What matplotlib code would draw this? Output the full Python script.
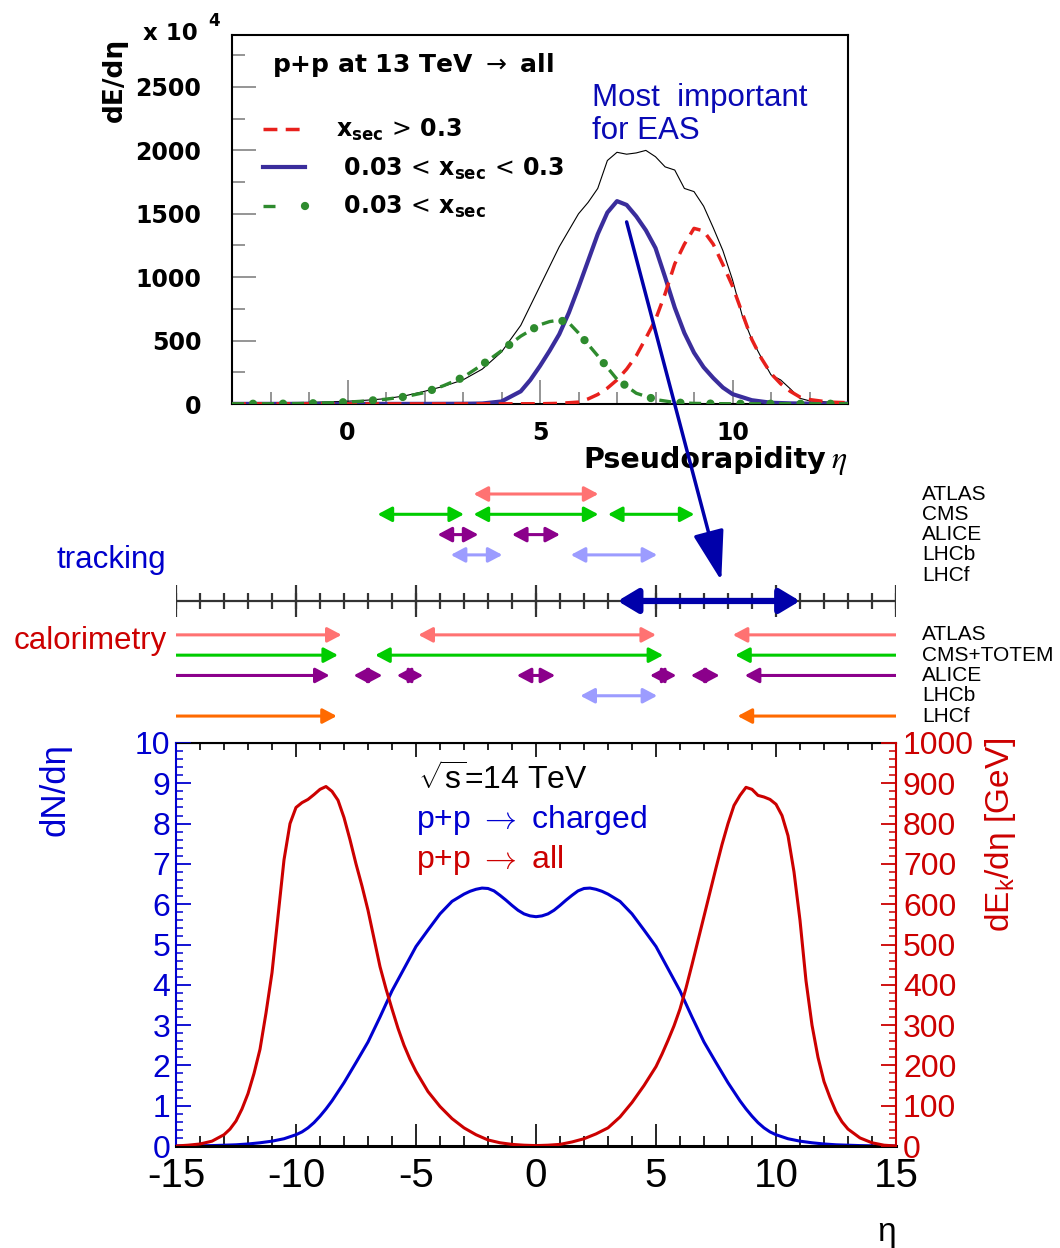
import numpy as np
import matplotlib
matplotlib.use('Agg')
import matplotlib.pyplot as plt
from matplotlib.patches import FancyArrowPatch, ConnectionPatch, ArrowStyle
from matplotlib.legend_handler import HandlerTuple
from matplotlib.font_manager import FontProperties
from matplotlib.ticker import MultipleLocator

plt.rcParams['font.family'] = ['Liberation Sans', 'DejaVu Sans']
plt.rcParams['mathtext.fontset'] = 'custom'
plt.rcParams['mathtext.rm'] = 'Liberation Sans'
plt.rcParams['mathtext.it'] = 'Liberation Sans:italic'
plt.rcParams['mathtext.bf'] = 'Liberation Sans:bold'
plt.rcParams['axes.unicode_minus'] = False

# ---------------- top panel: p+p at 13 TeV, dE/deta (x 10^4) ----------------
eta_total = [-3.0, -2.5, -2.0, -1.5, -1.0, -0.5, 0.0, 0.5, 1.0, 1.5, 2.0, 2.5, 3.0, 3.5,
             4.0, 4.5, 5.0, 5.5, 6.0, 6.25, 6.5, 6.75, 7.0, 7.25, 7.5, 7.75, 8.0, 8.25,
             8.5, 8.75, 9.0, 9.25, 9.5, 9.75, 10.0, 10.25, 10.5, 10.75, 11.0, 11.25,
             11.5, 11.75, 12.0, 12.5, 13.0]
dE_total = [5, 6, 8, 10, 13, 17, 22, 30, 42, 65, 100, 140, 190, 275,
            410, 620, 930, 1240, 1500, 1590, 1700, 1920, 1985, 1970, 1980, 2000, 1950, 1870,
            1845, 1700, 1675, 1560, 1390, 1210, 980, 700, 510, 365, 230, 190,
            120, 45, 25, 15, 10]

# 0.03 < x_sec < 0.3
eta_mid = [-3.0, -2.0, -1.0, 0.0, 1.0, 2.0, 3.0, 3.5, 4.0, 4.5, 4.75, 5.0, 5.25, 5.5,
           5.75, 6.0, 6.25, 6.5, 6.75, 7.0, 7.25, 7.5, 7.75, 8.0, 8.25, 8.5, 8.75,
           9.0, 9.25, 9.5, 9.75, 10.0, 10.5, 11.0, 11.5, 12.0, 13.0]
dE_mid = [1, 1, 1, 1, 1, 1, 2, 4, 20, 100, 190, 300, 420, 550,
          720, 920, 1130, 1340, 1510, 1600, 1570, 1480, 1370, 1230, 1000, 760, 560,
          405, 290, 205, 130, 78, 30, 10, 5, 3, 3]

# x_sec > 0.3
eta_hard = [-3.0, -1.0, 1.0, 3.0, 5.0, 5.5, 6.0, 6.25, 6.5, 6.75, 7.0, 7.25, 7.5, 7.75,
            8.0, 8.25, 8.5, 8.75, 9.0, 9.25, 9.5, 9.75, 10.0, 10.25, 10.5, 10.75, 11.0,
            11.25, 11.5, 11.75, 12.0, 12.5, 13.0]
dE_hard = [1, 1, 1, 1, 2, 5, 15, 40, 75, 125, 190, 275, 380, 520,
           665, 870, 1105, 1260, 1385, 1365, 1260, 1100, 930, 720, 510, 360, 240,
           160, 100, 55, 35, 15, 10]

# 0.03 < x_sec
eta_soft = [-3.0, -2.5, -2.0, -1.5, -1.0, -0.5, 0.0, 0.5, 1.0, 1.5, 2.0, 2.5, 3.0, 3.5,
            4.0, 4.5, 5.0, 5.25, 5.5, 5.75, 6.0, 6.5, 7.0, 7.5, 8.0, 8.5, 9.0, 9.5,
            10.0, 11.0, 12.0, 13.0]
dE_soft = [2, 2, 2, 3, 5, 9, 15, 24, 38, 58, 90, 145, 210, 310,
           420, 535, 625, 650, 662, 640, 560, 380, 195, 85, 35, 12, 5, 3,
           2, 2, 2, 2]

# ---------------- middle: detector acceptance in eta ----------------
trk_names = ['ATLAS', 'CMS', 'ALICE', 'LHCb', 'LHCf']
cal_names = ['ATLAS', 'CMS+TOTEM', 'ALICE', 'LHCb', 'LHCf']
det_colors = ['#ff7272', '#00cc00', '#8b008b', '#9c9cff', '#ff6a00']

trk_atlas = [(-2.6, 2.6)]
trk_cms = [(-6.6, -3.0), (-2.6, 2.6), (3.0, 6.6)]
trk_alice = [(-4.1, -2.4), (-1.0, 1.0)]
trk_lhcb = [(-3.55, -1.4), (1.45, 5.05)]
trk_lhcf = []

cal_atlas = [(-15, -8.1), (-4.9, 5.0), (15, 8.2)]
cal_cms = [(-15, -8.25), (-6.7, 5.3), (15, 8.3)]
cal_alice = [(-15, -8.6), (-7.6, -6.4), (-5.8, -4.7), (-0.8, 0.8), (4.75, 5.85),
             (6.45, 7.65), (15, 8.7)]
cal_lhcb = [(1.85, 5.05)]
cal_lhcf = [(-15, -8.3), (15, 8.4)]

eas_range = (3.4, 11.0)

# ---------------- bottom: sqrt(s)=14 TeV ----------------
eta_ch = [-15.0, -14.5, -14.0, -13.5, -13.0, -12.5, -12.0, -11.5, -11.0, -10.5, -10.0,
          -9.75, -9.5, -9.25, -9.0, -8.75, -8.5, -8.0, -7.5, -7.0, -6.5, -6.0, -5.5,
          -5.0, -4.5, -4.0, -3.5, -3.0, -2.75, -2.5, -2.25, -2.0, -1.75, -1.5, -1.25,
          -1.0, -0.75, -0.5, -0.25, 0.0, 0.25, 0.5, 0.75, 1.0, 1.25, 1.5, 1.75, 2.0,
          2.25, 2.5, 2.75, 3.0, 3.5, 4.0, 4.5, 5.0, 5.5, 6.0, 6.5, 7.0, 7.5, 8.0,
          8.5, 8.75, 9.0, 9.25, 9.5, 9.75, 10.0, 10.5, 11.0, 11.5, 12.0, 12.5, 13.0,
          13.5, 14.0, 14.5, 15.0]
dN_ch = [0.0, 0.002, 0.005, 0.01, 0.02, 0.03, 0.05, 0.08, 0.12, 0.18, 0.28,
         0.35, 0.45, 0.58, 0.74, 0.92, 1.12, 1.57, 2.07, 2.58, 3.20, 3.85, 4.40,
         4.95, 5.36, 5.76, 6.07, 6.25, 6.32, 6.37, 6.40, 6.39, 6.33, 6.22, 6.10,
         5.97, 5.85, 5.76, 5.71, 5.69, 5.71, 5.76, 5.85, 5.97, 6.10, 6.22, 6.33, 6.39,
         6.40, 6.37, 6.32, 6.25, 6.07, 5.76, 5.36, 4.95, 4.40, 3.85, 3.20, 2.58, 2.07, 1.57,
         1.12, 0.92, 0.74, 0.58, 0.45, 0.35, 0.28, 0.18, 0.12, 0.08, 0.05, 0.03, 0.02,
         0.01, 0.005, 0.002, 0.0]

eta_all = [-15.0, -14.5, -14.0, -13.5, -13.0, -12.75, -12.5, -12.25, -12.0, -11.75,
           -11.5, -11.25, -11.0, -10.75, -10.5, -10.25, -10.0, -9.75, -9.5, -9.25,
           -9.0, -8.75, -8.5, -8.25, -8.0, -7.75, -7.5, -7.25, -7.0, -6.75, -6.5,
           -6.25, -6.0, -5.75, -5.5, -5.25, -5.0, -4.5, -4.0, -3.5, -3.0, -2.5, -2.0,
           -1.5, -1.0, -0.5, 0.0, 0.5, 1.0, 1.5, 2.0, 2.5, 3.0, 3.5, 4.0, 4.5, 5.0,
           5.25, 5.5, 5.75, 6.0, 6.25, 6.5, 6.75, 7.0, 7.25, 7.5, 7.75, 8.0, 8.25,
           8.5, 8.75, 9.0, 9.25, 9.5, 9.75, 10.0, 10.25, 10.5, 10.75, 11.0, 11.25,
           11.5, 11.75, 12.0, 12.25, 12.5, 12.75, 13.0, 13.5, 14.0, 14.5, 15.0]
dEk_all = [0, 2, 5, 12, 28, 42, 62, 92, 130, 180,
           240, 330, 430, 570, 710, 800, 840, 852, 860, 872,
           885, 892, 880, 858, 815, 760, 700, 645, 585, 515, 445,
           390, 340, 292, 250, 215, 185, 135, 98, 68, 45, 28, 15,
           8, 4, 2, 1, 2, 4, 10, 18, 30, 45, 72, 108, 150, 197,
           228, 262, 298, 340, 392, 450, 510, 570, 630, 690, 748, 800, 845,
           870, 890, 885, 870, 866, 860, 848, 820, 770, 680, 560, 410,
           300, 220, 160, 120, 85, 60, 42, 20, 8, 2, 0]

W, H = 1060, 1248
def fx(px):
    return px / W
def fy(py):
    return 1 - py / H
def box(l, t, r, b):
    return [l / W, 1 - b / H, (r - l) / W, (b - t) / H]

fig = plt.figure(figsize=(10.6, 12.48), dpi=100)
ax_top = fig.add_axes(box(232, 35, 848, 404))
ax_mid = fig.add_axes(box(176, 480, 896, 726))
ax_bot = fig.add_axes(box(176, 743, 896, 1146))

# ======== top panel ========
bold = dict(family='DejaVu Sans', fontweight='bold', math_fontfamily='dejavusans')
ax_top.plot(eta_total, dE_total, color='black', lw=0.8, zorder=2)
l_mid, = ax_top.plot(eta_mid, dE_mid, color='#3a2d9c', lw=3.0, zorder=3)
l_hard, = ax_top.plot(eta_hard, dE_hard, color='#e8201c', lw=2.5, ls=(0, (4.0, 2.4)), zorder=4)
g_dash, = ax_top.plot(eta_soft, dE_soft, color='#2e8b2e', lw=2.4, ls=(0, (3.6, 5.4)), zorder=5)
g_dot, = ax_top.plot(eta_soft, dE_soft, color='#2e8b2e', lw=6, ls=(1.083, (0.002, 3.6)),
                     dash_capstyle='round', zorder=5)

ax_top.set_xlim(-3, 13)
ax_top.set_ylim(0, 2910)
ax_top.set_xticks([0, 5, 10])
ax_top.xaxis.set_minor_locator(MultipleLocator(1))
ax_top.set_yticks(np.arange(0, 2501, 500))
ax_top.yaxis.set_minor_locator(MultipleLocator(250))
ax_top.tick_params(which='both', direction='in', color='#8c8c8c', width=1.3,
                   top=False, right=False)
ax_top.tick_params(which='major', length=17, labelsize=17)
ax_top.tick_params(which='minor', length=9)
ax_top.tick_params(axis='x', pad=12)
ax_top.tick_params(axis='y', pad=22)
for lab in ax_top.get_xticklabels() + ax_top.get_yticklabels():
    lab.set_family('DejaVu Sans')
    lab.set_fontweight('bold')
for sp in ax_top.spines.values():
    sp.set_linewidth(1.5)

ax_top.text(0.065, 0.918, r'p+p at 13 TeV $\rightarrow$ all', transform=ax_top.transAxes,
            fontsize=18, va='center', **bold)
leg_prop = FontProperties(family='DejaVu Sans', weight='bold', size=17,
                          math_fontfamily='dejavusans')
ax_top.legend([l_hard, l_mid, (g_dash, g_dot)],
              [r'$\mathbf{x}_{\mathbf{sec}}\,>\,\mathbf{0.3}$',
               r'$\ \mathbf{0.03}\,<\,\mathbf{x}_{\mathbf{sec}}\,<\,\mathbf{0.3}$',
               r'$\ \mathbf{0.03}\,<\,\mathbf{x}_{\mathbf{sec}}$'],
              handler_map={tuple: HandlerTuple(ndivide=None, pad=0)},
              loc='upper left', bbox_to_anchor=(0.05, 0.778), frameon=False,
              borderpad=0, borderaxespad=0, handlelength=1.8, handletextpad=1.3,
              labelspacing=0.52, prop=leg_prop)

fig.text(fx(115), fy(80), 'dE/dη', rotation=90, ha='center', va='center', fontsize=19, **bold)
fig.text(fx(143), fy(33), 'x 10', ha='left', va='center', fontsize=16.5, **bold)
fig.text(fx(208), fy(21), '4', ha='left', va='center', fontsize=12, **bold)
fig.text(fx(826), fy(460), 'Pseudorapidity', ha='right', va='center', fontsize=20.5, **bold)
fig.text(fx(831), fy(462), r'$\eta$', ha='left', va='center', fontsize=23,
         math_fontfamily='stix')
fig.text(fx(592), fy(83), 'Most  important\nfor EAS', ha='left', va='top', fontsize=22.5,
         color='#0a0ab4', linespacing=1.12)

# ======== middle: acceptance ========
ax_mid.set_xlim(-15, 15)
ax_mid.set_ylim(-6.16, 5.96)
ax_mid.axis('off')
ax_mid.hlines(0, -15, 15, color='#333333', lw=1.6)
ax_mid.vlines(np.arange(-15, 16, 1), -0.39, 0.39, color='#333333', lw=1.6)
ax_mid.vlines(np.arange(-15, 16, 5), -0.79, 0.79, color='#333333', lw=1.6)


def draw_range(a, b, y, color):
    # ranges starting at the edge (|eta|=15) are one-sided
    if abs(a) == 15:
        style = ArrowStyle('-|>', head_length=0.85, head_width=0.45)
    else:
        style = ArrowStyle('<|-|>', head_length=0.85, head_width=0.45)
    ax_mid.add_patch(FancyArrowPatch((a, y), (b, y), arrowstyle=style, mutation_scale=10,
                                     lw=2.2, color=color, shrinkA=0, shrinkB=0))


trk_sets = [trk_atlas, trk_cms, trk_alice, trk_lhcb, trk_lhcf]
cal_sets = [cal_atlas, cal_cms, cal_alice, cal_lhcb, cal_lhcf]
for k in range(5):
    y_t = 5.27 - k
    y_c = -1.67 - k
    for a, b in trk_sets[k]:
        draw_range(a, b, y_t, det_colors[k])
    for a, b in cal_sets[k]:
        draw_range(a, b, y_c, det_colors[k])
    ax_mid.text(16.08, y_t, trk_names[k], fontsize=15, va='center', ha='left', clip_on=False)
    ax_mid.text(16.08, y_c, cal_names[k], fontsize=15, va='center', ha='left', clip_on=False)

ax_mid.add_patch(FancyArrowPatch((eas_range[0], 0), (eas_range[1], 0),
                                 arrowstyle=ArrowStyle('<|-|>', head_length=1.2, head_width=0.72),
                                 mutation_scale=10, lw=4.5, color='#0000aa',
                                 shrinkA=0, shrinkB=0, zorder=5))
ax_mid.text(-15.4, 2.02, 'tracking', fontsize=22.5, color='#0000cc', ha='right', va='center')
ax_mid.text(-15.4, -1.97, 'calorimetry', fontsize=22.5, color='#cc0000', ha='right', va='center')

con = ConnectionPatch(xyA=(7.25, 1436), coordsA='data', axesA=ax_top,
                      xyB=(7.72, 1.0), coordsB='data', axesB=ax_mid,
                      arrowstyle=ArrowStyle('-|>', head_length=1.55, head_width=0.48),
                      mutation_scale=20, lw=2.5, color='#0000aa', shrinkA=0, shrinkB=0,
                      zorder=10)
fig.add_artist(con)

# ======== bottom panel ========
blue = '#0000d0'
red = '#cc0000'
ax_bot.plot(eta_ch, dN_ch, color=blue, lw=2.2)
ax_r = ax_bot.twinx()
ax_r.plot(eta_all, dEk_all, color=red, lw=2.2)

ax_bot.set_xlim(-15, 15)
ax_bot.set_ylim(0, 10)
ax_r.set_ylim(0, 1000)
ax_bot.set_xticks(np.arange(-15, 16, 5))
ax_bot.xaxis.set_minor_locator(MultipleLocator(1))
ax_bot.set_yticks(np.arange(0, 11, 1))
ax_bot.yaxis.set_minor_locator(MultipleLocator(0.2))
ax_r.set_yticks(np.arange(0, 1001, 100))
ax_r.yaxis.set_minor_locator(MultipleLocator(20))

ax_bot.tick_params(axis='x', which='major', direction='in', length=16, width=1.2,
                   labelsize=29, pad=8, top=False)
ax_bot.tick_params(axis='x', which='minor', direction='in', length=7, width=1.2, top=False)
ax_bot.tick_params(axis='y', which='major', direction='in', length=11, width=1.3,
                   color=blue, labelcolor=blue, labelsize=23, pad=4, right=False)
ax_bot.tick_params(axis='y', which='minor', direction='in', length=5, width=1.1,
                   color=blue, right=False)
ax_r.tick_params(axis='y', which='major', direction='in', length=11, width=1.3,
                 color=red, labelcolor=red, labelsize=23, pad=5)
ax_r.tick_params(axis='y', which='minor', direction='in', length=5, width=1.1, color=red)

sec = ax_bot.secondary_xaxis('top')
sec.set_xticks(np.arange(-15, 16, 5))
sec.xaxis.set_minor_locator(MultipleLocator(1))
sec.tick_params(which='major', direction='in', length=10, width=1.2, labeltop=False)
sec.tick_params(which='minor', direction='in', length=5, width=1.2)
sec.spines['top'].set_linewidth(1.5)

ax_bot.spines['left'].set_color(blue)
ax_bot.spines['left'].set_linewidth(1.5)
ax_bot.spines['right'].set_visible(False)
ax_bot.spines['bottom'].set_linewidth(2.2)
ax_r.spines['left'].set_visible(False)
ax_r.spines['top'].set_visible(False)
ax_r.spines['bottom'].set_visible(False)
ax_r.spines['right'].set_color(red)
ax_r.spines['right'].set_linewidth(1.5)

fig.text(fx(418), fy(780), r'$\sqrt{\mathrm{s}}$=14 TeV', fontsize=23, ha='left', va='center')
fig.text(fx(416), fy(820), r'p+p $\rightarrow$ charged', fontsize=23, color=blue,
         ha='left', va='center', math_fontfamily='cm')
fig.text(fx(416), fy(860), r'p+p $\rightarrow$ all', fontsize=23, color=red,
         ha='left', va='center', math_fontfamily='cm')
fig.text(fx(55), fy(790), 'dN/dη', rotation=90, fontsize=25, color=blue, ha='center', va='center')
fig.text(fx(1000), fy(835), r'dE$_{\mathrm{k}}$/dη [GeV]', rotation=90, fontsize=24, color=red,
         ha='center', va='center')
fig.text(fx(887), fy(1232), 'η', fontsize=24, ha='center', va='center')

fig.savefig('out.png', dpi=100)
